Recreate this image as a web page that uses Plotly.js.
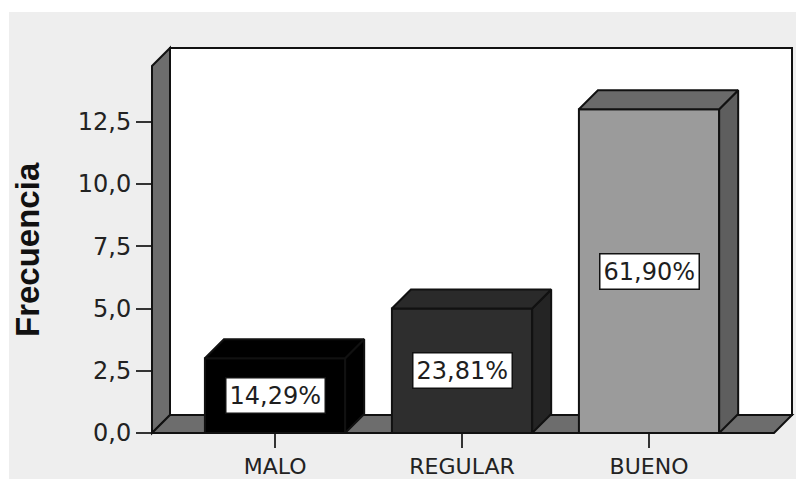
<!DOCTYPE html>
<html><head><meta charset="utf-8">
<script src="https://cdn.plot.ly/plotly-3.0.1.min.js"></script>
<style>html,body{margin:0;padding:0;background:#fff}</style>
</head><body><div id="chart" style="width:796px;height:479px"></div>
<script>
// ---- data ----
const categories = ['MALO', 'REGULAR', 'BUENO'];
const frequencies = [3, 5, 13];
const percentLabels = ['14,29%', '23,81%', '61,90%'];
const yTickValues = [0, 2.5, 5, 7.5, 10, 12.5];
const yTickLabels = ['0,0', '2,5', '5,0', '7,5', '10,0', '12,5'];
const yTitle = 'Frecuencia';

// ---- styles ----
const frontColors = ['#000000', '#2e2e2e', '#9b9b9b'];
const topColors = ['#000000', '#2a2a2a', '#6a6a6a'];
const sideColors = ['#000000', '#242424', '#5e5e5e'];
const edge = '#111111';
const wallColor = '#6d6d6d';

// ---- geometry ----
const W = 796, H = 479;
const L = 152, R = 4, T = 48, B = 46;
const plotW = W - L - R, plotH = H - T - B;
const pxPerX = 187, pxPerY = 24.9;
const xMin = -0.658;
const xRange = [xMin, xMin + plotW / pxPerX];
const yRange = [0, plotH / pxPerY];
const barWidth = 0.75, half = barWidth / 2;
const barDepthPx = 19, wallDepthPx = 18;
const dX = barDepthPx / pxPerX, dY = barDepthPx / pxPerY;

const idx = categories.map((_, i) => i);
const traces = [];
// front faces
traces.push({
  type: 'bar', x: idx, y: frequencies, width: barWidth,
  marker: {color: frontColors, line: {color: edge, width: 2}},
  hoverinfo: 'skip', showlegend: false
});
// top and side faces built from the same values
idx.forEach(i => {
  const v = frequencies[i];
  traces.push({
    type: 'scatter', mode: 'lines', fill: 'toself', fillcolor: sideColors[i],
    x: [i + half, i + half + dX, i + half + dX, i + half, i + half],
    y: [0, dY, v + dY, v, 0],
    line: {color: edge, width: 2}, hoverinfo: 'skip', showlegend: false
  });
  traces.push({
    type: 'scatter', mode: 'lines', fill: 'toself', fillcolor: topColors[i],
    x: [i - half, i - half + dX, i + half + dX, i + half, i - half],
    y: [v, v + dY, v + dY, v, v],
    line: {color: edge, width: 2}, hoverinfo: 'skip', showlegend: false
  });
});

// pixel -> paper helpers for the decorative walls
const px = p => (p - L) / plotW;
const py = p => (H - B - p) / plotH;
const floorFront = H - B, backLeft = L + wallDepthPx, backBottom = floorFront - wallDepthPx;
const backRight = W - R, frontRight = backRight - wallDepthPx;
function path(pts) {
  return 'M' + pts.map(p => px(p[0]) + ',' + py(p[1])).join(' L') + ' Z';
}
const shapes = [
  {type: 'rect', xref: 'paper', yref: 'paper', x0: px(9), x1: px(W), y0: py(12), y1: py(H),
   fillcolor: '#eeeeee', line: {width: 0}, layer: 'below'},
  {type: 'rect', xref: 'paper', yref: 'paper', x0: px(backLeft), x1: px(backRight), y0: py(backBottom), y1: py(T),
   fillcolor: '#ffffff', line: {color: edge, width: 2}, layer: 'below'},
  {type: 'path', xref: 'paper', yref: 'paper',
   path: path([[L, floorFront], [L, T + wallDepthPx], [backLeft, T], [backLeft, backBottom]]),
   fillcolor: wallColor, line: {color: edge, width: 2}, layer: 'below'},
  {type: 'path', xref: 'paper', yref: 'paper',
   path: path([[L, floorFront], [backLeft, backBottom], [backRight, backBottom], [frontRight, floorFront]]),
   fillcolor: wallColor, line: {color: edge, width: 2}, layer: 'below'}
];

const annotations = idx.map(i => ({
  x: i, y: frequencies[i] / 2, xref: 'x', yref: 'y', text: percentLabels[i], showarrow: false,
  bgcolor: '#ffffff', bordercolor: edge, borderwidth: 1.5, borderpad: 3,
  font: {family: 'DejaVu Sans', size: 24, color: '#1e1e1e'}
}));
// rotated y-axis title, placed where the reference shows it
annotations.push({
  xref: 'paper', yref: 'paper', x: px(28), y: py(250), text: '<b>' + yTitle + '</b>',
  textangle: -90, showarrow: false, xanchor: 'center', yanchor: 'middle',
  font: {family: 'Liberation Sans', size: 33, color: '#111111'}
});

const layout = {
  width: W, height: H,
  margin: {l: L, r: R, t: T, b: B, pad: 0},
  paper_bgcolor: '#ffffff', plot_bgcolor: 'rgba(0,0,0,0)',
  showlegend: false,
  xaxis: {
    range: xRange, tickmode: 'array', tickvals: idx, ticktext: categories,
    ticks: 'outside', ticklen: 14, tickwidth: 2, tickcolor: '#333333',
    showline: false, showgrid: false, zeroline: false, fixedrange: true,
    tickfont: {family: 'DejaVu Sans', size: 22, color: '#222222'}
  },
  yaxis: {
    range: yRange, tickmode: 'array', tickvals: yTickValues, ticktext: yTickLabels,
    ticks: 'outside', ticklen: 15, tickwidth: 2, tickcolor: '#333333',
    showline: false, showgrid: false, zeroline: false, fixedrange: true,
    tickfont: {family: 'DejaVu Sans', size: 24, color: '#222222'}
  },
  shapes: shapes,
  annotations: annotations
};

Plotly.newPlot('chart', traces, layout, {displayModeBar: false, staticPlot: true});
</script>
</body></html>
